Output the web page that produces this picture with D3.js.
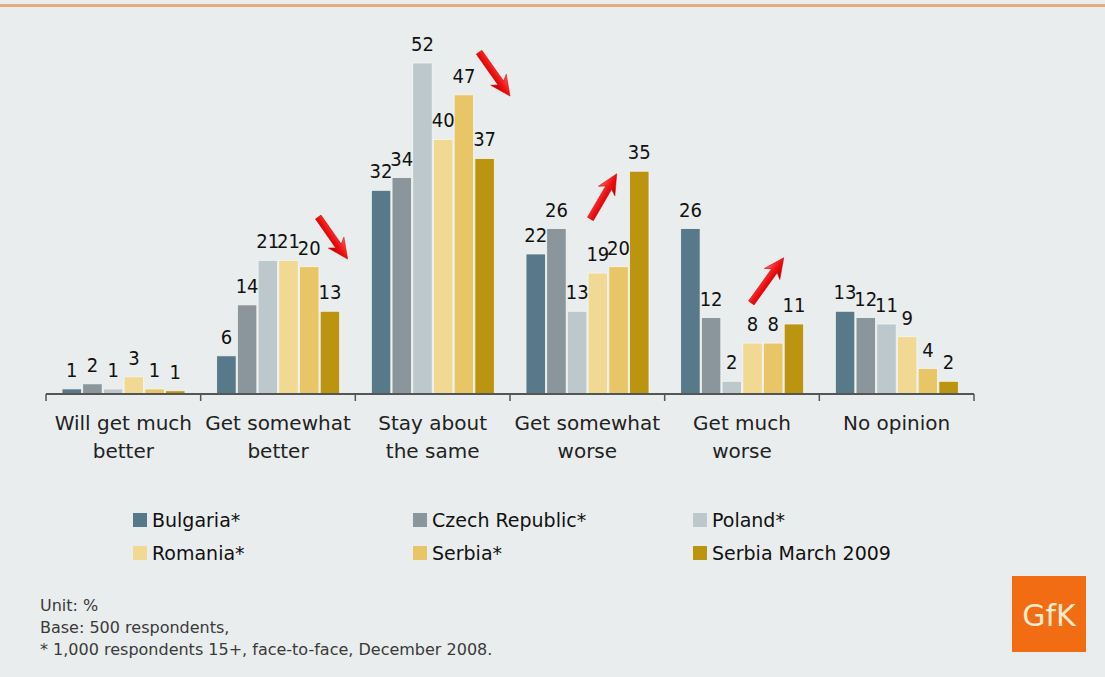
<!DOCTYPE html>
<html>
<head>
<meta charset="utf-8">
<script src="https://cdn.jsdelivr.net/npm/d3@7"></script>
<style>
  html, body { margin: 0; padding: 0; background: #e9eded; }
  svg { display: block; font-family: "DejaVu Sans", Verdana, sans-serif; }
  .val { font-family: "DejaVu Sans"; font-stretch: condensed; font-size: 20px; fill: #111; }
</style>
</head>
<body>
<div id="chart"></div>
<script>
// categories (answers) and their two-line tick labels
const categories = ["Will get much better", "Get somewhat better", "Stay about the same",
  "Get somewhat worse", "Get much worse", "No opinion"];
const tickLines = [["Will get much", "better"], ["Get somewhat", "better"], ["Stay about", "the same"],
  ["Get somewhat", "worse"], ["Get much", "worse"], ["No opinion"]];

// series (countries), values in % per category
const seriesNames = ["Bulgaria*", "Czech Republic*", "Poland*", "Romania*", "Serbia*", "Serbia March 2009"];
const bulgaria      = [0.8, 6, 32, 22, 26, 13];
const czechRepublic = [1.6, 14, 34, 26, 12, 12];
const poland        = [0.8, 21, 52, 13, 2, 11];
const romania       = [2.7, 21, 40, 19, 8, 9];
const serbia        = [0.8, 20, 47, 20, 8, 4];
const serbiaMarch   = [0.5, 13, 37, 35, 11, 2];
const seriesColors = ["#587989", "#8a969b", "#bcc8cc", "#f1d994", "#e8c668", "#bc9510"];

// red trend arrows: category, start/end position inside group (0..1), start/end value
const arrows = [
  { cat: "Get somewhat better", x0: 0.76, x1: 0.95, v0: 27.8, v1: 21.2 },
  { cat: "Stay about the same", x0: 0.80, x1: 1.00, v0: 53.7, v1: 46.8 },
  { cat: "Get somewhat worse", x0: 0.52, x1: 0.69, v0: 27.5, v1: 34.6 },
  { cat: "Get much worse", x0: 0.56, x1: 0.77, v0: 14.3, v1: 21.4 }
];

const footnotes = ["Unit: %", "Base: 500 respondents,", "* 1,000 respondents 15+, face-to-face, December 2008."];

const seriesValues = [bulgaria, czechRepublic, poland, romania, serbia, serbiaMarch];

const width = 1105, height = 677;

const svg = d3.select("#chart").append("svg")
  .attr("width", width)
  .attr("height", height);

svg.append("rect").attr("width", width).attr("height", height).attr("fill", "#e9eded");

// thin orange rule on top
svg.append("rect").attr("x", 0).attr("y", 4).attr("width", width).attr("height", 3).attr("fill", "#e4ae7c");

// scales
const x = d3.scaleBand().domain(categories).range([46, 974]);
const xInner = d3.scaleBand().domain(seriesNames).range([16, 139]).paddingInner(0.06);
const y = d3.scaleLinear().domain([0, 52]).range([394, 63]);

// bars
const groups = svg.append("g").selectAll("g")
  .data(categories)
  .join("g")
  .attr("transform", d => `translate(${x(d)},0)`);

groups.selectAll("rect")
  .data((c, i) => seriesNames.map((s, j) => ({ s, j, v: seriesValues[j][i] })))
  .join("rect")
  .attr("x", d => xInner(d.s))
  .attr("y", d => y(d.v))
  .attr("width", xInner.bandwidth())
  .attr("height", d => y(0) - y(d.v))
  .attr("fill", d => seriesColors[d.j])
  .attr("stroke", "#f4f6f4")
  .attr("stroke-width", 0.8);

// value labels
groups.selectAll("text")
  .data((c, i) => seriesNames.map((s, j) => ({ s, j, v: seriesValues[j][i] })))
  .join("text")
  .attr("class", "val")
  .attr("x", d => xInner(d.s) + xInner.bandwidth() / 2)
  .attr("y", d => y(d.v) - 12)
  .attr("text-anchor", "middle")
  .text(d => Math.round(d.v));

// x axis
const axis = svg.append("g").attr("transform", "translate(0,394)");
axis.append("line").attr("x1", 46).attr("x2", 974).attr("stroke", "#555").attr("stroke-width", 2);
axis.selectAll(".tick")
  .data(categories.concat([null]))
  .join("line")
  .attr("x1", d => d ? x(d) : x.range()[1])
  .attr("x2", d => d ? x(d) : x.range()[1])
  .attr("y1", 0).attr("y2", 7)
  .attr("stroke", "#555").attr("stroke-width", 1.5);

const labels = svg.append("g").selectAll("text")
  .data(categories)
  .join("text")
  .attr("x", d => x(d) + x.bandwidth() / 2)
  .attr("y", 430)
  .attr("text-anchor", "middle")
  .style("font-size", "20px")
  .style("fill", "#222");
labels.selectAll("tspan")
  .data((d, i) => tickLines[i])
  .join("tspan")
  .attr("x", function () { return d3.select(this.parentNode).attr("x"); })
  .attr("dy", (d, i) => i === 0 ? 0 : 28)
  .text(d => d);

// arrows
const defs = svg.append("defs");
const grad = defs.append("linearGradient").attr("id", "arrowGrad")
  .attr("x1", 0).attr("y1", 0).attr("x2", 0).attr("y2", 1);
grad.append("stop").attr("offset", "0%").attr("stop-color", "#ff6060");
grad.append("stop").attr("offset", "50%").attr("stop-color", "#f01010");
grad.append("stop").attr("offset", "100%").attr("stop-color", "#b00000");

arrows.forEach(a => {
  const sx = x(a.cat) + a.x0 * x.bandwidth(), sy = y(a.v0);
  const ex = x(a.cat) + a.x1 * x.bandwidth(), ey = y(a.v1);
  const len = Math.hypot(ex - sx, ey - sy);
  const ang = Math.atan2(ey - sy, ex - sx) * 180 / Math.PI;
  const hl = 16, sw = 3.4, hw = 9.5;
  svg.append("path")
    .attr("transform", `translate(${sx},${sy}) rotate(${ang})`)
    .attr("d", `M0,${-sw} L${len - hl},${-sw} L${len - hl - 4},${-hw} L${len},0 L${len - hl - 4},${hw} L${len - hl},${sw} L0,${sw} Z`)
    .attr("fill", "url(#arrowGrad)")
    .attr("stroke", "#d00000")
    .attr("stroke-width", 0.5)
    .attr("stroke-linejoin", "round");
});

// legend
const legend = svg.append("g").selectAll("g")
  .data(seriesNames)
  .join("g")
  .attr("transform", (d, i) => `translate(${133 + (i % 3) * 280},${i < 3 ? 520 : 553})`);
legend.append("rect")
  .attr("x", 0).attr("y", -7).attr("width", 14).attr("height", 14)
  .attr("fill", (d, i) => seriesColors[i]);
legend.append("text")
  .attr("x", 19).attr("y", 7)
  .style("font-size", "19px")
  .style("fill", "#111")
  .text(d => d);

// footnote
svg.append("g").selectAll("text")
  .data(footnotes)
  .join("text")
  .attr("x", 40)
  .attr("y", (d, i) => 611 + i * 22)
  .style("font-size", "16px")
  .style("fill", "#3a3a3a")
  .text(d => d);

// GfK logo
svg.append("rect").attr("x", 1012).attr("y", 576).attr("width", 74).attr("height", 76).attr("fill", "#f26c14");
svg.append("text").attr("x", 1049).attr("y", 626).attr("text-anchor", "middle")
  .style("font-size", "30px").style("fill", "#fcebcd").text("GfK");
</script>
</body>
</html>
